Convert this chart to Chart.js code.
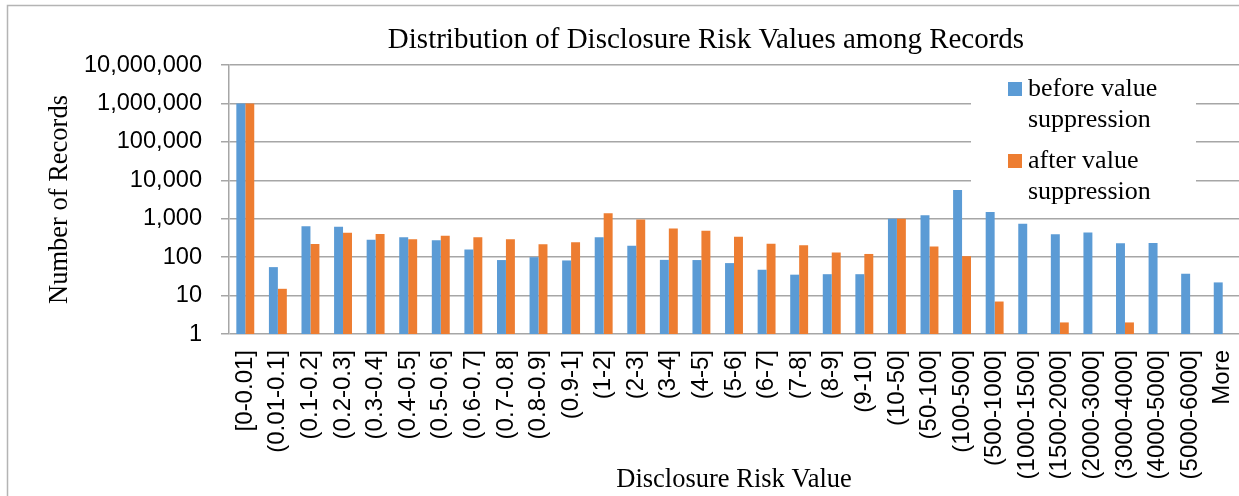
<!DOCTYPE html>
<html>
<head>
<meta charset="utf-8">
<script src="https://cdn.jsdelivr.net/npm/chart.js@4/dist/chart.umd.min.js"></script>
<style>
  html, body { margin: 0; padding: 0; background: #fff; }
  #wrap { width: 1239px; height: 496px; }
</style>
</head>
<body>
<div id="wrap"><canvas id="riskChart" width="1239" height="496"></canvas></div>
<script>
// chart values
const chartTitle = 'Distribution of Disclosure Risk Values among Records';
const categories = ['[0-0.01]', '(0.01-0.1]', '(0.1-0.2]', '(0.2-0.3]', '(0.3-0.4]', '(0.4-0.5]',
  '(0.5-0.6]', '(0.6-0.7]', '(0.7-0.8]', '(0.8-0.9]', '(0.9-1]', '(1-2]', '(2-3]', '(3-4]', '(4-5]',
  '(5-6]', '(6-7]', '(7-8]', '(8-9]', '(9-10]', '(10-50]', '(50-100]', '(100-500]', '(500-1000]',
  '(1000-1500]', '(1500-2000]', '(2000-3000]', '(3000-4000]', '(4000-5000]', '(5000-6000]', 'More'];
const beforeValues = [1000000, 55, 633, 620, 284, 327, 277, 158, 84, 100, 82, 331, 197, 85, 84,
  70, 47, 35, 36, 36, 1000, 1230, 5600, 1490, 745, 394, 436, 230, 235, 37, 22];
const afterValues = [1000000, 15, 219, 434, 400, 290, 359, 331, 294, 215, 245, 1390, 953, 555, 483,
  337, 222, 205, 132, 121, 1000, 189, 106, 7, null, 2, null, 2, null, null, null];
const yTicks = [1, 10, 100, 1000, 10000, 100000, 1000000, 10000000];

const SERIF = '"Liberation Serif", "Times New Roman", serif';
const SANS = '"Liberation Sans", Arial, sans-serif';
const GRID = '#a6a6a6';

// frame + title drawn by hand so the title sits where the original has it
const framePlugin = {
  id: 'frame',
  beforeDraw(chart) {
    const ctx = chart.ctx;
    ctx.save();
    ctx.fillStyle = '#fff';
    ctx.fillRect(0, 0, chart.width, chart.height);
    ctx.strokeStyle = '#b4b4b4';
    ctx.lineWidth = 1.5;
    ctx.strokeRect(7.5, 5.5, chart.width + 10, chart.height + 10);
    ctx.fillStyle = '#000';
    ctx.font = '29px ' + SERIF;
    ctx.textAlign = 'center';
    ctx.textBaseline = 'alphabetic';
    ctx.fillText(chartTitle, 706, 48);
    ctx.restore();
  }
};

// legend box inside the plot with wrapped labels
const legendPlugin = {
  id: 'boxLegend',
  afterDatasetsDraw(chart) {
    const ctx = chart.ctx;
    ctx.save();
    ctx.fillStyle = '#fff';
    ctx.fillRect(971, 70, 225, 142);
    ctx.font = '26px ' + SERIF;
    ctx.textAlign = 'left';
    ctx.textBaseline = 'alphabetic';
    chart.data.datasets.forEach((ds, i) => {
      const top = 82 + i * 72;
      ctx.fillStyle = ds.backgroundColor;
      ctx.fillRect(1008, top, 14, 14);
      const cut = ds.label.lastIndexOf(' ');
      const lines = [ds.label.slice(0, cut), ds.label.slice(cut + 1)];
      ctx.fillStyle = '#000';
      lines.forEach((line, j) => ctx.fillText(line, 1028, top + 14 + j * 31));
    });
    ctx.restore();
  }
};

new Chart(document.getElementById('riskChart'), {
  type: 'bar',
  data: {
    labels: categories,
    datasets: [
      { label: 'before value suppression', data: beforeValues, backgroundColor: '#5B9BD5' },
      { label: 'after value suppression', data: afterValues, backgroundColor: '#ED7D31' }
    ]
  },
  plugins: [framePlugin, legendPlugin],
  options: {
    responsive: false,
    animation: false,
    devicePixelRatio: 1,
    layout: { padding: { top: 65, left: 0, right: 0, bottom: 0 } },
    datasets: { bar: { categoryPercentage: 0.55, barPercentage: 1.0, borderWidth: 0 } },
    plugins: { legend: { display: false }, title: { display: false }, tooltip: { enabled: false } },
    scales: {
      x: {
        grid: { display: false, drawTicks: false },
        border: { display: false },
        ticks: {
          autoSkip: false,
          maxRotation: 90,
          minRotation: 90,
          padding: 16,
          color: '#000',
          font: { family: SANS, size: 24 }
        },
        title: {
          display: true,
          text: 'Disclosure Risk Value',
          color: '#000',
          font: { family: SERIF, size: 26.5 },
          padding: { top: 0, bottom: 0 }
        },
        afterFit(scale) {
          scale.height = 162;
          // keep the rotated last label from shrinking the category band
          scale.paddingLeft = 0;
          scale.paddingRight = 0;
        }
      },
      y: {
        type: 'logarithmic',
        min: 1,
        max: 10000000,
        grid: { color: GRID, lineWidth: 1.5, tickLength: 8, drawTicks: true },
        border: { display: true, color: GRID, width: 1.5 },
        afterBuildTicks(scale) { scale.ticks = yTicks.map(v => ({ value: v })); },
        ticks: {
          padding: 19,
          color: '#000',
          font: { family: SANS, size: 23.6 },
          callback: v => Number(v).toLocaleString('en-US')
        },
        title: {
          display: true,
          text: 'Number of Records',
          color: '#000',
          font: { family: SERIF, size: 26.5 },
          padding: { top: 44, bottom: 0 }
        },
        afterFit(scale) { scale.width = 229; }
      }
    }
  }
});
</script>
</body>
</html>
